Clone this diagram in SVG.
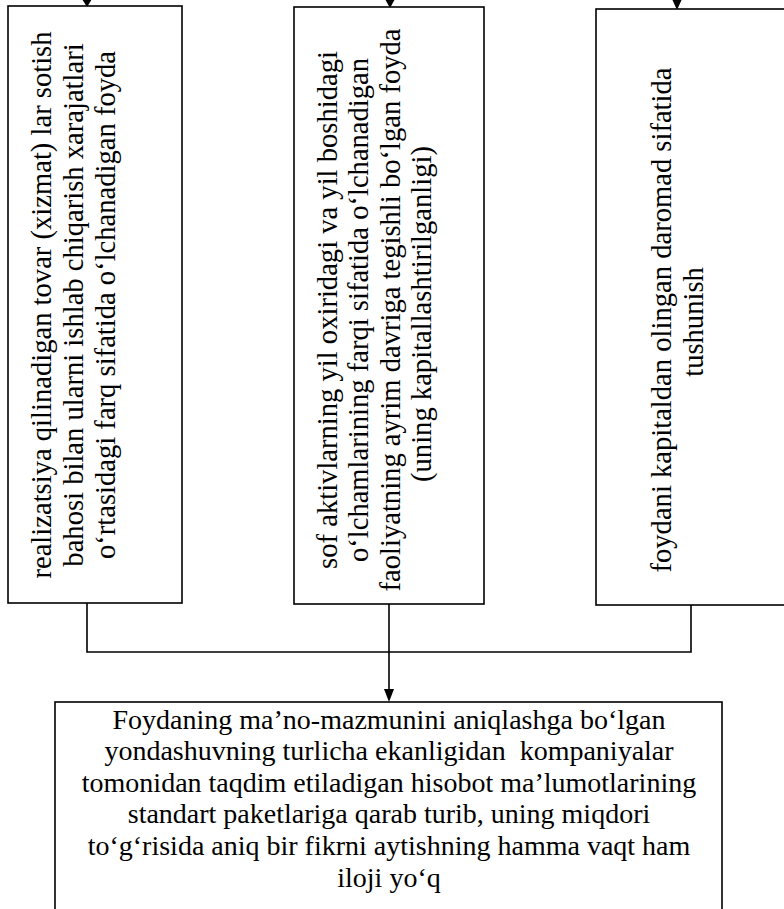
<svg xmlns="http://www.w3.org/2000/svg" width="784" height="909" viewBox="0 0 784 909">
<defs>
<style>
.box{fill:#fff;stroke:#000;stroke-width:1.6}
.ln{fill:none;stroke:#000;stroke-width:1.6}
.ah{fill:#000;stroke:none}
.t{font-family:"Liberation Serif","Times New Roman",serif;font-size:28px;fill:#000;text-anchor:middle;white-space:pre}
.v{font-size:28.6px}
</style>
</defs>
<rect width="784" height="909" fill="#fff"/>
<g id="connectors">
<line class="ln" x1="87" y1="0" x2="87" y2="3"/>
<polygon class="ah" points="82,-1 92,-1 87,7"/>
<line class="ln" x1="390" y1="0" x2="390" y2="3"/>
<polygon class="ah" points="385,-1 395,-1 390,8"/>
<line class="ln" x1="677" y1="0" x2="677" y2="3"/>
<polygon class="ah" points="672,-1 682,-1 677,10"/>
<polyline class="ln" points="87,603 87,652 691,652 691,605"/>
<line class="ln" x1="389" y1="604" x2="389" y2="692"/>
<polygon class="ah" points="384,689 394,689 389,702"/>
</g>
<g id="node1">
<rect class="box" x="8" y="6" width="174" height="597"/>
<text class="t v" transform="translate(51,305) rotate(-90)">realizatsiya qilinadigan tovar (xizmat) lar sotish</text>
<text class="t v" transform="translate(83,305) rotate(-90)">bahosi bilan ularni ishlab chiqarish xarajatlari</text>
<text class="t v" transform="translate(115,305) rotate(-90)">o‘rtasidagi farq sifatida o‘lchanadigan foyda</text>
</g>
<g id="node2">
<rect class="box" x="294" y="7" width="190" height="597"/>
<text class="t v" transform="translate(337,310) rotate(-90)">sof aktivlarning yil oxiridagi va yil boshidagi</text>
<text class="t v" transform="translate(368,310) rotate(-90)">o‘lchamlarining farqi sifatida o‘lchanadigan</text>
<text class="t v" transform="translate(400,310) rotate(-90)">faoliyatning ayrim davriga tegishli bo‘lgan foyda</text>
<text class="t v" transform="translate(431,314) rotate(-90)">(uning kapitallashtirilganligi)</text>
</g>
<g id="node3">
<rect class="box" x="596" y="9" width="200" height="596"/>
<text class="t v" transform="translate(671,320) rotate(-90)">foydani kapitaldan olingan daromad sifatida</text>
<text class="t v" transform="translate(703,322) rotate(-90)">tushunish</text>
</g>
<g id="node4">
<rect class="box" x="55" y="702" width="667" height="220"/>
<text class="t" x="389" y="729">Foydaning ma’no-mazmunini aniqlashga bo‘lgan</text>
<text class="t" x="389" y="760">yondashuvning turlicha ekanligidan  kompaniyalar</text>
<text class="t" x="389" y="792">tomonidan taqdim etiladigan hisobot ma’lumotlarining</text>
<text class="t" x="389" y="823">standart paketlariga qarab turib, uning miqdori</text>
<text class="t" x="389" y="855">to‘g‘risida aniq bir fikrni aytishning hamma vaqt ham</text>
<text class="t" x="389" y="887">iloji yo‘q</text>
</g>
</svg>
